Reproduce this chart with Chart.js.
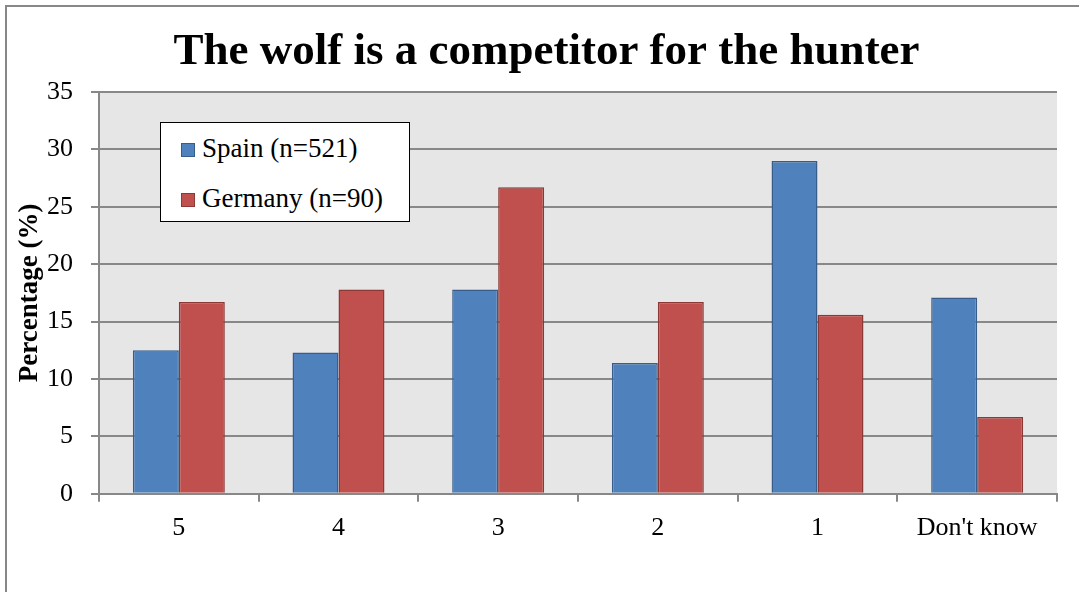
<!DOCTYPE html>
<html><head><meta charset="utf-8">
<script src="https://cdn.jsdelivr.net/npm/chart.js@4/dist/chart.umd.min.js"></script>
<style>
html,body{margin:0;padding:0;background:#fff;overflow:hidden;}
#wrap{position:relative;width:1079px;height:592px;}
#frame{position:absolute;left:5px;top:5px;width:1100px;height:620px;border-left:2px solid #888;border-top:2px solid #888;}
#c{position:absolute;left:0;top:0;}
#legend{position:absolute;left:160px;top:122px;width:250px;height:100px;background:#fff;border:1.5px solid #000;box-sizing:border-box;font-family:"Liberation Serif",serif;font-size:27px;color:#000;}
.row{position:absolute;left:20px;height:32px;line-height:32px;white-space:nowrap;}
.sw{display:inline-block;width:14px;height:14px;margin-right:7px;vertical-align:0px;box-sizing:border-box;border:1.5px solid;}
</style></head>
<body>
<div id="wrap">
<div id="frame"></div>
<canvas id="c" width="1079" height="592"></canvas>
<div id="legend"></div>
</div>
<script>
const categories = ["5", "4", "3", "2", "1", "Don't know"];
const spain = [12.5, 12.3, 17.8, 11.4, 29.0, 17.1];
const germany = [16.7, 17.8, 26.7, 16.7, 15.6, 6.7];
const seriesNames = ["Spain (n=521)", "Germany (n=90)"];
const yMin = 0, yMax = 35, yStep = 5;
const titleText = "The wolf is a competitor for the hunter";
const yTitle = "Percentage (%)";

const fills = ["#4f81bd", "#c0504d"];
const edges = ["#385d8a", "#8c3836"];
const serif = "'Liberation Serif', serif";

// legend
const lg = document.getElementById('legend');
seriesNames.forEach((n, i) => {
  const r = document.createElement('div');
  r.className = 'row';
  r.style.top = (9 + i * 50) + 'px';
  const s = document.createElement('span');
  s.className = 'sw';
  s.style.background = fills[i];
  s.style.borderColor = edges[i];
  r.appendChild(s);
  r.appendChild(document.createTextNode(n));
  lg.appendChild(r);
});

const plotBg = {
  id: 'plotBg',
  beforeDraw(chart) {
    const {ctx, chartArea: a} = chart;
    ctx.save();
    ctx.fillStyle = '#e6e6e6';
    ctx.fillRect(a.left, a.top, a.right - a.left, a.bottom - a.top);
    ctx.restore();
  }
};

new Chart(document.getElementById('c'), {
  type: 'bar',
  data: {
    labels: categories,
    datasets: [
      {label: seriesNames[0], data: spain, backgroundColor: fills[0], borderColor: edges[0], borderWidth: 1.5},
      {label: seriesNames[1], data: germany, backgroundColor: fills[1], borderColor: edges[1], borderWidth: 1.5}
    ]
  },
  options: {
    responsive: false,
    animation: false,
    devicePixelRatio: 1,
    categoryPercentage: 0.576,
    barPercentage: 1.0,
    layout: {padding: {left: 36, right: 22, top: 0, bottom: 37}},
    plugins: {
      legend: {display: false},
      tooltip: {enabled: false},
      title: {
        display: true, text: titleText, color: '#000',
        font: {family: serif, size: 45, weight: 'bold', lineHeight: 1.2},
        padding: {top: 25, bottom: 13}
      }
    },
    scales: {
      x: {
        grid: {offset: true, drawOnChartArea: false, drawTicks: true, tickLength: 8, color: '#888', lineWidth: 2},
        border: {color: '#888', width: 2},
        ticks: {color: '#000', font: {family: serif, size: 26}, padding: 11, maxRotation: 0}
      },
      y: {
        min: yMin, max: yMax,
        afterFit(scale) { scale.width = 63; },
        grid: {color: '#888', lineWidth: 2, tickLength: 8, drawTicks: true},
        border: {color: '#888', width: 2},
        ticks: {stepSize: yStep, color: '#000', font: {family: serif, size: 26}, padding: 18},
        title: {display: true, text: yTitle, color: '#000', font: {family: serif, size: 27, weight: 'bold', lineHeight: 1.2}, padding: {top: -22, bottom: 0}}
      }
    }
  },
  plugins: [plotBg]
});
</script>
</body></html>
